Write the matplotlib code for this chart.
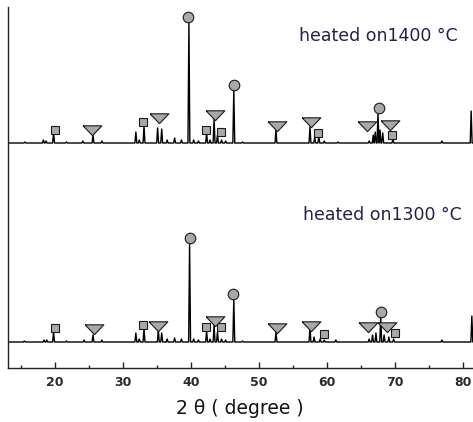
import matplotlib
matplotlib.use("Agg")
import matplotlib.pyplot as plt
from matplotlib.ticker import MultipleLocator

# peaks of the 1400 °C pattern: 2theta and height above its baseline
top_pos = [15.6, 18.3, 18.7, 19.8, 21.7, 24.1, 25.6, 26.9, 31.9, 32.4, 33.1, 35.1, 35.7,
           36.5, 37.6, 38.6, 39.7, 40.4, 41.1, 42.3, 42.8, 43.4, 43.9, 44.5, 45.1, 46.3,
           47.6, 52.5, 57.5, 58.2, 58.8, 59.6, 61.6, 66.2, 66.8, 67.1, 67.5, 67.8, 68.2,
           69.7, 76.9, 81.2]
top_h = [1, 3, 2, 10, 1, 2, 8, 2, 11, 3, 17, 15, 14,
         3, 5, 3, 121, 3, 2, 10, 3, 24, 8, 3, 2, 53,
         1, 13, 16, 6, 6, 2, 1, 2, 8, 11, 30, 13, 10,
         4, 2, 32]

# peaks of the 1300 °C pattern
bot_pos = [15.5, 18.4, 18.8, 19.8, 21.7, 24.3, 25.6, 26.9, 31.9, 32.4, 33.1, 35.2, 35.7,
           36.5, 37.6, 38.6, 39.8, 40.4, 41.1, 42.3, 42.8, 43.4, 43.9, 44.5, 45.1, 46.3,
           47.6, 52.5, 57.5, 58.1, 59.0, 59.6, 61.3, 66.2, 66.7, 67.2, 67.9, 68.4, 69.1,
           69.8, 76.9, 81.3]
bot_h = [1, 2, 2, 10, 1, 2, 7, 2, 9, 3, 14, 12, 9,
         3, 4, 3, 99, 3, 2, 11, 3, 17, 10, 3, 2, 43,
         1, 10, 14, 5, 3, 2, 2, 3, 7, 9, 25, 7, 5,
         3, 2, 26]

# phase markers (2theta, height above baseline)
top_sq_x = [20.0, 32.9, 42.2, 44.4, 58.7, 69.6]
top_sq_y = [13.5, 21, 13.5, 11.5, 10.5, 8]
top_tri_x = [25.5, 35.3, 43.5, 52.6, 57.6, 65.9, 69.2]
top_tri_y = [13, 25, 28, 17.5, 21, 17.5, 18.5]
top_cir_x = [39.6, 46.3, 67.6]
top_cir_y = [126, 58, 35]

bot_sq_x = [20.0, 32.9, 42.2, 44.4, 59.5, 70.0]
bot_sq_y = [14, 17.5, 15, 15, 8.5, 9.2]
bot_tri_x = [25.8, 35.1, 43.5, 52.7, 57.7, 66.1, 68.8]
bot_tri_y = [13.5, 16.5, 21.5, 14.5, 16.3, 15, 15]
bot_cir_x = [39.9, 46.2, 67.9]
bot_cir_y = [104, 47.7, 29.7]

TOP_OFF = 225
BOT_OFF = 26
XMIN, XMAX = 13.1, 81.47
GRAY = "#a8a8a8"
TRI = [(-1, 0.5), (1, 0.5), (0, -0.55), (-1, 0.5)]


def trace(pos, h, off, w=0.14):
    xs, ys = [XMIN], [off]
    for p, v in zip(pos, h):
        xs += [p - w, p, p + w]
        ys += [off, off + v, off]
    xs.append(XMAX + 1)
    ys.append(off)
    return xs, ys


def marks(ax, sx, sy, tx, ty, cx, cy, off):
    kw = dict(ls="none", mfc=GRAY, mec="#1a1a1a", mew=0.8, zorder=3)
    ax.plot(sx, [off + v for v in sy], marker="s", ms=6.3, **kw)
    ax.plot(tx, [off + v for v in ty], marker=TRI, ms=13.5, **kw)
    ax.plot(cx, [off + v for v in cy], marker="o", ms=7.6, **kw)


fig = plt.figure(figsize=(4.73, 4.22), dpi=100)
ax = fig.add_axes([8 / 473, 54 / 422, 1 - 8 / 473, 361 / 422])

for pos, h, off in [(top_pos, top_h, TOP_OFF), (bot_pos, bot_h, BOT_OFF)]:
    xs, ys = trace(pos, h, off)
    ax.plot(xs, ys, color="black", lw=1.0, zorder=2)

marks(ax, top_sq_x, top_sq_y, top_tri_x, top_tri_y, top_cir_x, top_cir_y, TOP_OFF)
marks(ax, bot_sq_x, bot_sq_y, bot_tri_x, bot_tri_y, bot_cir_x, bot_cir_y, BOT_OFF)

ax.set_xlim(XMIN, XMAX)
ax.set_ylim(0, 361)
for s in ["top", "right"]:
    ax.spines[s].set_visible(False)
for s in ["left", "bottom"]:
    ax.spines[s].set_linewidth(1.0)
    ax.spines[s].set_color("#222222")
ax.set_yticks([])
ax.xaxis.set_major_locator(MultipleLocator(10))
ax.xaxis.set_minor_locator(MultipleLocator(5))
ax.tick_params(axis="x", which="major", direction="in", length=4, width=1.0,
               pad=6, labelsize=9, labelcolor="#2a2a2a", color="#222222")
ax.tick_params(axis="x", which="minor", direction="in", length=2.2, width=1.0,
               color="#222222")
for lab in ax.get_xticklabels():
    lab.set_fontweight("bold")

fig.text(378 / 473, 1 - 36 / 422, "heated on1400 °C", fontsize=12.5,
         color="#22224a", ha="center", va="center", family="DejaVu Sans")
fig.text(382 / 473, 1 - 215 / 422, "heated on1300 °C", fontsize=12.5,
         color="#22224a", ha="center", va="center", family="DejaVu Sans")
fig.text(240 / 473, 1 - 409 / 422, "2 θ ( degree )", fontsize=13.5,
         color="#111111", ha="center", va="center", family="DejaVu Sans")

fig.savefig("out.png", dpi=100)
